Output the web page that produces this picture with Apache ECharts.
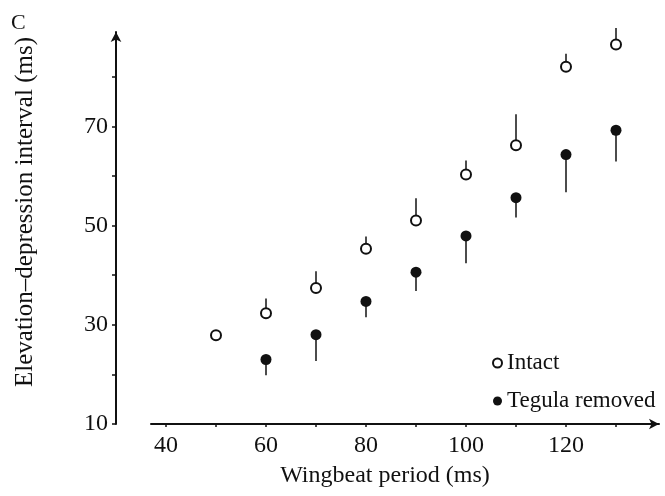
<!DOCTYPE html>
<html>
<head>
<meta charset="utf-8">
<script src="https://cdn.jsdelivr.net/npm/echarts@6/dist/echarts.min.js"></script>
<style>html,body{margin:0;padding:0;background:#fff}#c{width:665px;height:496px}</style>
</head>
<body>
<div id="c"></div>
<script>
// Data
const intactPeriods = [50, 60, 70, 80, 90, 100, 110, 120, 130];
const intactValues  = [27.9, 32.3, 37.4, 45.3, 51.0, 60.3, 66.2, 82.0, 86.5];
const intactErr     = [0, 3.0, 3.4, 2.5, 4.5, 2.8, 6.2, 2.6, 3.3];
const tegulaPeriods = [60, 70, 80, 90, 100, 110, 120, 130];
const tegulaValues  = [23.0, 28.0, 34.7, 40.6, 47.9, 55.6, 64.3, 69.2];
const tegulaErr     = [3.2, 5.3, 3.2, 3.8, 5.5, 4.0, 7.6, 6.3];
const xTickValues = [40, 50, 60, 70, 80, 90, 100, 110, 120, 130];
const xLabelValues = [40, 60, 80, 100, 120];
const yTickValues = [10, 20, 30, 40, 50, 60, 70, 80];
const yLabelValues = [10, 30, 50, 70];

const FONT = '"Liberation Serif", "Times New Roman", serif';
const chart = echarts.init(document.getElementById('c'));

const intactPts = intactPeriods.map((p, i) => [p, intactValues[i]]);
const tegulaPts = tegulaPeriods.map((p, i) => [p, tegulaValues[i]]);
const intactBars = intactPeriods.map((p, i) => [p, intactValues[i], intactValues[i] + intactErr[i]]);
const tegulaBars = tegulaPeriods.map((p, i) => [p, tegulaValues[i], tegulaValues[i] - tegulaErr[i]]);

function errItem(params, api) {
  const a = api.coord([api.value(0), api.value(1)]);
  const b = api.coord([api.value(0), api.value(2)]);
  return { type: 'line', shape: { x1: a[0], y1: a[1], x2: b[0], y2: b[1] },
           style: { stroke: '#111', lineWidth: 1.5 } };
}

chart.setOption({
  animation: false,
  backgroundColor: '#fff',
  textStyle: { fontFamily: FONT },
  title: { text: 'C', left: 6, top: 7, textStyle: { fontFamily: FONT, fontSize: 22, fontWeight: 'normal', color: '#111' } },
  grid: { left: 151, right: 6, top: 32, bottom: 72 },
  legend: {
    orient: 'vertical', left: 487, top: 345, itemGap: 12,
    itemWidth: 9, itemHeight: 9,
    data: ['Intact', 'Tegula removed'],
    textStyle: { fontFamily: FONT, fontSize: 23, color: '#111', lineHeight: 26 }
  },
  xAxis: {
    type: 'value', min: 37, max: 138.6,
    name: 'Wingbeat period (ms)', nameLocation: 'middle', nameGap: 40,
    nameTextStyle: { fontFamily: FONT, fontSize: 24, color: '#111', padding: [0, 40, 0, 0] },
    axisLine: { show: true, symbol: ['none', 'arrow'], symbolSize: [8, 10], lineStyle: { color: '#111', width: 2 } },
    axisTick: { show: true, length: 3, customValues: xTickValues, lineStyle: { color: '#111', width: 1.5 } },
    axisLabel: { customValues: xLabelValues, fontFamily: FONT, fontSize: 24, color: '#111', margin: 10 },
    splitLine: { show: false }
  },
  yAxis: {
    type: 'value', min: 10, max: 89, offset: 35,
    name: 'Elevation–depression interval (ms)', nameLocation: 'middle', nameGap: 78,
    nameTextStyle: { fontFamily: FONT, fontSize: 25, color: '#111', padding: [0, 0, 0, 32] },
    axisLine: { show: true, symbol: ['none', 'arrow'], symbolSize: [8, 10], lineStyle: { color: '#111', width: 2 } },
    axisTick: { show: true, length: 4, customValues: yTickValues, lineStyle: { color: '#111', width: 1.5 } },
    axisLabel: { customValues: yLabelValues, fontFamily: FONT, fontSize: 24, color: '#111', margin: 8 },
    splitLine: { show: false }
  },
  series: [
    { name: 'Intact err', type: 'custom', renderItem: errItem, data: intactBars, z: 1, silent: true },
    { name: 'Tegula err', type: 'custom', renderItem: errItem, data: tegulaBars, z: 1, silent: true },
    { name: 'Intact', type: 'scatter', data: intactPts, symbol: 'circle', symbolSize: 10, z: 3,
      itemStyle: { color: '#fff', borderColor: '#111', borderWidth: 2, opacity: 1 } },
    { name: 'Tegula removed', type: 'scatter', data: tegulaPts, symbol: 'circle', symbolSize: 11, z: 3,
      itemStyle: { color: '#111', opacity: 1 } }
  ]
});
</script>
</body>
</html>
